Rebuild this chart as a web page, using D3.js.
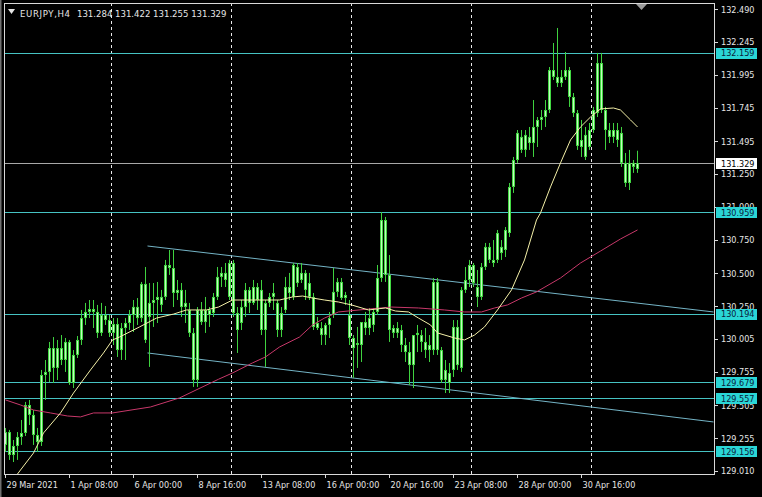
<!DOCTYPE html>
<html><head><meta charset="utf-8">
<script src="https://cdn.jsdelivr.net/npm/d3@7"></script>
<style>html,body{margin:0;padding:0;background:#000;overflow:hidden}</style>
</head><body>
<svg id="c" width="762" height="497"></svg>
<script>
// ---------------- data ----------------
const symbol = "EURJPY,H4";
const lastOHLC = [131.284, 131.422, 131.255, 131.329];

const opens = [129.205,129.302,129.129,129.197,129.265,129.295,129.506,129.431,129.280,129.227,
129.732,129.755,129.935,129.785,129.935,129.845,129.981,129.672,129.883,129.996,
130.161,130.207,130.229,130.207,130.049,130.184,130.146,130.049,130.116,129.920,
130.086,130.124,130.184,130.245,130.161,130.418,130.169,130.275,130.297,130.320,
130.320,130.561,130.538,130.350,130.373,130.244,130.222,130.049,129.694,130.222,
130.131,130.222,130.199,130.320,130.471,130.501,130.320,130.576,130.199,130.124,
130.244,130.373,130.275,130.395,130.373,130.071,130.275,130.320,130.275,130.071,
130.222,130.395,130.320,130.546,130.448,130.501,130.425,130.320,130.124,130.086,
130.033,130.109,130.184,130.358,130.433,130.312,130.184,130.011,129.958,129.958,
130.131,130.086,130.109,130.207,130.463,130.900,130.486,130.049,130.086,130.071,
129.958,129.905,129.807,130.033,130.033,129.981,129.920,129.920,130.433,129.920,
129.770,129.747,129.770,130.094,129.785,130.373,130.448,130.561,130.395,130.320,
130.546,130.697,130.599,130.599,130.697,130.674,130.802,131.149,131.352,131.526,
131.428,131.526,131.480,131.601,131.654,131.676,131.729,132.030,131.978,131.932,
131.978,132.030,131.827,131.706,131.450,131.541,131.450,131.578,131.706,132.083,
131.729,131.578,131.526,131.578,131.556,131.330,131.179,131.330,131.284];

const highs = [129.333,129.318,129.242,129.302,129.393,129.529,129.544,129.468,129.333,129.770,
129.845,129.981,130.018,129.996,130.033,130.011,129.996,129.920,130.026,130.222,
130.275,130.297,130.297,130.260,130.275,130.252,130.184,130.161,130.161,130.124,
130.161,130.222,130.297,130.312,130.433,130.546,130.425,130.425,130.433,130.373,
130.599,130.674,130.674,130.448,130.425,130.373,130.275,130.086,130.244,130.282,
130.320,130.244,130.350,130.546,130.546,130.576,130.599,130.599,130.244,130.297,
130.425,130.395,130.448,130.425,130.448,130.297,130.350,130.425,130.297,130.244,
130.471,130.501,130.576,130.576,130.576,130.523,130.501,130.350,130.169,130.131,
130.124,130.207,130.538,130.463,130.463,130.358,130.297,130.033,130.094,130.131,
130.207,130.237,130.237,130.561,130.960,130.923,130.636,130.109,130.131,130.109,
130.011,129.981,130.033,130.109,130.071,130.086,130.033,130.463,130.463,129.943,
129.845,129.822,130.146,130.146,130.395,130.546,130.599,130.576,130.523,130.576,
130.727,130.727,130.749,130.825,130.749,130.847,131.179,131.375,131.578,131.578,
131.578,131.601,131.804,131.676,131.729,131.804,132.053,132.234,132.347,132.030,
132.166,132.053,131.857,131.729,131.654,131.601,131.631,131.752,132.159,132.159,
131.752,131.631,131.631,131.631,131.601,131.405,131.428,131.352,131.422];

const lows = [129.152,129.092,129.076,129.092,129.205,129.272,129.355,129.205,129.152,129.197,
129.544,129.679,129.672,129.694,129.807,129.755,129.657,129.634,129.860,129.958,
130.109,130.161,130.086,130.011,130.026,130.109,130.018,129.958,129.868,129.845,
129.845,130.071,130.056,130.109,130.131,129.973,129.793,130.094,130.124,130.207,
130.297,130.486,130.244,130.297,130.169,130.124,130.018,129.642,129.642,130.109,
130.049,130.094,130.169,130.297,130.395,130.395,130.297,130.169,129.898,130.071,
130.169,130.199,130.260,130.222,130.033,129.793,130.244,130.222,130.018,130.018,
130.199,130.297,130.297,130.395,130.425,130.297,130.297,130.071,130.071,129.958,
129.958,130.011,130.161,130.320,130.297,130.260,129.958,129.710,129.785,129.830,
130.033,130.033,130.056,130.184,130.433,130.433,129.981,130.011,130.011,129.905,
129.830,129.657,129.634,129.905,129.905,129.860,129.830,129.883,129.883,129.672,
129.596,129.596,129.717,129.770,129.755,130.350,130.395,130.395,130.244,130.297,
130.523,130.576,130.546,130.576,130.599,130.621,130.772,131.104,131.330,131.405,
131.375,131.428,131.375,131.450,131.578,131.601,131.706,131.955,131.902,131.902,
131.955,131.752,131.676,131.428,131.375,131.352,131.428,131.556,131.676,131.706,
131.428,131.480,131.480,131.450,131.300,131.149,131.126,131.255,131.255];

const closes = [129.302,129.129,129.197,129.265,129.295,129.506,129.431,129.280,129.227,129.732,
129.755,129.935,129.785,129.935,129.845,129.981,129.672,129.883,129.996,130.161,
130.207,130.229,130.207,130.049,130.184,130.146,130.049,130.116,129.920,130.086,
130.124,130.184,130.245,130.161,130.418,129.996,130.275,130.297,130.320,130.260,
130.561,130.538,130.350,130.373,130.244,130.275,130.049,129.694,130.222,130.131,
130.222,130.184,130.320,130.471,130.501,130.448,130.576,130.199,130.071,130.244,
130.373,130.275,130.395,130.297,130.071,130.275,130.320,130.350,130.071,130.199,
130.395,130.350,130.561,130.425,130.501,130.373,130.320,130.094,130.086,130.033,
130.109,130.161,130.358,130.433,130.312,130.335,130.011,129.935,129.973,130.131,
130.086,130.161,130.207,130.463,130.900,130.486,130.071,130.086,130.049,129.958,
129.905,129.807,130.033,130.049,129.981,129.920,129.958,130.433,129.920,129.694,
129.694,129.672,130.094,129.807,130.373,130.448,130.561,130.425,130.320,130.546,
130.697,130.599,130.576,130.802,130.651,130.825,131.149,131.352,131.556,131.428,
131.541,131.480,131.601,131.654,131.676,131.729,132.030,131.978,131.932,131.978,
132.030,131.827,131.706,131.458,131.503,131.375,131.578,131.729,132.083,131.729,
131.578,131.526,131.578,131.503,131.330,131.179,131.330,131.300,131.329];

// fast moving average (yellow): bar index / value
const maFastBars   = [3,3.75,7,9.5,13.75,17,21.25,24.5,26.75,28.5,33.5,37.75,42,45.25,50.25,53.25,56.75,61.75,68.5,71.75,74.25,76.75,79.75,83.25,86.5,90.75,95,97.5,100.75,103.25,106.25,108,112.25,114.75,117.25,119.75,123,126.5,129.75,132.75,133.75,136.25,138.75,141.25,143.75,146.25,148.75,152,153.75,156.25,158];
const maFastValues = [128.986,129.016,129.144,129.295,129.446,129.596,129.770,129.898,129.996,130.018,130.094,130.161,130.191,130.222,130.222,130.244,130.297,130.297,130.297,130.320,130.327,130.312,130.297,130.282,130.260,130.222,130.237,130.214,130.207,130.161,130.109,130.049,130.011,129.996,130.033,130.094,130.222,130.373,130.599,130.900,130.953,131.149,131.330,131.503,131.601,131.676,131.737,131.744,131.729,131.654,131.601];

// slow moving average (crimson)
const maSlowBars   = [0,3.75,7,11.25,15.5,18.75,22,26.75,36.25,43.5,53.25,56.75,61.75,65,68.5,73.5,76.75,79.75,83.25,90.75,96.5,103.25,109.75,114.75,119,122.25,125.5,129,132.75,138.75,143.75,148.75,153.75,158];
const maSlowValues = [129.544,129.506,129.468,129.446,129.423,129.416,129.446,129.446,129.491,129.559,129.700,129.747,129.823,129.868,129.943,130.018,130.109,130.161,130.207,130.229,130.244,130.237,130.222,130.207,130.207,130.237,130.260,130.312,130.358,130.463,130.576,130.666,130.757,130.825];

// trend channel (bar index, price)
const channelBars  = [35.5, 177];
const channelUpper = [130.704, 130.207];
const channelLower = [129.898, 129.378];

const levels = [132.159, 130.959, 130.194, 129.679, 129.557, 129.156];
const bidPrice = 131.329;

const yTicks = [132.490,132.245,131.995,131.745,131.495,131.250,131.000,130.750,130.500,130.250,130.005,129.755,129.505,129.255,129.010];
const xTickBars = [0,16,32,48,64,80,96,112,128,144];
const xTickLabels = ["29 Mar 2021","1 Apr 08:00","6 Apr 00:00","8 Apr 16:00","13 Apr 08:00","16 Apr 00:00","20 Apr 16:00","23 Apr 08:00","28 Apr 00:00","30 Apr 16:00"];
const gridBars = [26.25, 56.25, 86.25, 116.25, 146.25];

// ---------------- drawing ----------------
const L = 4, R = 714, T = 3, B = 474;
const FONT = "'DejaVu Sans Condensed','Liberation Sans',Arial,sans-serif";
const svg = d3.select("#c");
svg.append("rect").attr("width", 762).attr("height", 497).attr("fill", "#000");
svg.append("rect").attr("x", 0).attr("y", 0).attr("width", 1.5).attr("height", 497).attr("fill", "#707070");

const x = d3.scaleLinear().domain([0, 1]).range([5.5, 9.5]);
const y = d3.scaleLinear().domain([129.010, 132.490]).range([470.8, 9]);
const py = v => Math.round(y(v)) + 0.5;

svg.append("defs").append("clipPath").attr("id", "plot")
  .append("rect").attr("x", L).attr("y", T).attr("width", R - L).attr("height", B - T);
const plot = svg.append("g").attr("clip-path", "url(#plot)");

// vertical dashed grid
plot.selectAll(".grid").data(gridBars).join("line")
  .attr("x1", d => Math.round(x(d)) + 0.5).attr("x2", d => Math.round(x(d)) + 0.5)
  .attr("y1", T).attr("y2", B)
  .attr("stroke", "#e8e8e8").attr("stroke-width", 1).attr("stroke-dasharray", "3,3");

// horizontal level lines
plot.selectAll(".lvl").data(levels).join("line")
  .attr("x1", L).attr("x2", R).attr("y1", d => py(d)).attr("y2", d => py(d))
  .attr("stroke", "#46c3c3").attr("stroke-width", 1);

// bid line
plot.append("line").attr("x1", L).attr("x2", R).attr("y1", py(bidPrice)).attr("y2", py(bidPrice))
  .attr("stroke", "#a8a8a8").attr("stroke-width", 1);

// channel lines
[channelUpper, channelLower].forEach(vals => {
  plot.append("line")
    .attr("x1", x(channelBars[0])).attr("y1", y(vals[0]))
    .attr("x2", x(channelBars[1])).attr("y2", y(vals[1]))
    .attr("stroke", "#74b4c6").attr("stroke-width", 1);
});

// candles
const idx = d3.range(opens.length);
const wickCol = "#3fd23f";
plot.selectAll(".wick").data(idx).join("line")
  .attr("x1", i => x(i)).attr("x2", i => x(i))
  .attr("y1", i => y(highs[i])).attr("y2", i => y(lows[i]))
  .attr("stroke", wickCol).attr("stroke-width", 1);
plot.selectAll(".body").data(idx).join("rect")
  .attr("x", i => x(i) - 1.5).attr("width", 3)
  .attr("y", i => y(Math.max(opens[i], closes[i])))
  .attr("height", i => Math.max(1, Math.abs(y(opens[i]) - y(closes[i]))))
  .attr("fill", "#42d842");
plot.selectAll(".core").data(idx).join("rect")
  .attr("x", i => x(i) - 0.5).attr("width", 1)
  .attr("y", i => y(Math.max(opens[i], closes[i])) + 1)
  .attr("height", i => Math.max(0, Math.abs(y(opens[i]) - y(closes[i])) - 2))
  .attr("fill", "#c4fcc0");

// moving averages
const lineGen = (bars, vals) => d3.line().x((d, k) => x(bars[k])).y(d => y(d))(vals);
plot.append("path").attr("d", lineGen(maSlowBars, maSlowValues))
  .attr("fill", "none").attr("stroke", "#c8386a").attr("stroke-width", 1);
plot.append("path").attr("d", lineGen(maFastBars, maFastValues))
  .attr("fill", "none").attr("stroke", "#f4f0a8").attr("stroke-width", 1);

// frame
svg.append("rect").attr("x", L + 0.5).attr("y", T + 0.5).attr("width", R - L).attr("height", B - T)
  .attr("fill", "none").attr("stroke", "#d8d8d8").attr("stroke-width", 1);

// right price axis
const yAx = svg.append("g").attr("font-family", FONT).attr("font-size", 9);
yTicks.forEach(v => {
  yAx.append("line").attr("x1", R).attr("x2", R + 4).attr("y1", py(v)).attr("y2", py(v)).attr("stroke", "#d8d8d8");
  yAx.append("text").attr("x", 721).attr("y", y(v) + 3.5).attr("fill", "#e6e6e6").text(v.toFixed(3));
});
// level labels
levels.forEach(v => {
  yAx.append("rect").attr("x", 716).attr("y", Math.round(y(v)) - 5).attr("width", 41).attr("height", 11).attr("fill", "#2ad6d6");
  yAx.append("text").attr("x", 721).attr("y", y(v) + 3.5).attr("fill", "#0a1a3a").text(v.toFixed(3));
});
yAx.append("rect").attr("x", 716).attr("y", Math.round(y(bidPrice)) - 5).attr("width", 41).attr("height", 11).attr("fill", "#ffffff");
yAx.append("text").attr("x", 721).attr("y", y(bidPrice) + 3.5).attr("fill", "#000").text(bidPrice.toFixed(3));

// bottom time axis
const xAx = svg.append("g").attr("font-family", FONT).attr("font-size", 9);
xTickBars.forEach((b, k) => {
  const xx = Math.round(x(b)) - 1 + 0.5;
  xAx.append("line").attr("x1", xx).attr("x2", xx).attr("y1", B).attr("y2", B + 4).attr("stroke", "#d8d8d8");
  xAx.append("text").attr("x", xx + 1).attr("y", 488).attr("fill", "#e6e6e6").text(xTickLabels[k]);
});

// header
svg.append("path").attr("d", "M8,9 L15,9 L11.5,14 Z").attr("fill", "#e6e6e6");
svg.append("text").attr("x", 20).attr("y", 17).attr("font-family", FONT).attr("font-size", 9.5)
  .attr("fill", "#e6e6e6").attr("textLength", 50).attr("lengthAdjust", "spacing").text(symbol);
svg.append("text").attr("x", 77).attr("y", 17).attr("font-family", FONT).attr("font-size", 9.5)
  .attr("fill", "#e6e6e6").attr("xml:space", "preserve")
  .text(lastOHLC.map(v => v.toFixed(3)).join(" "));

// chart shift marker
svg.append("path").attr("d", "M636,4 L647,4 L641.5,10 Z").attr("fill", "#9a9a9a");
</script>
</body></html>
